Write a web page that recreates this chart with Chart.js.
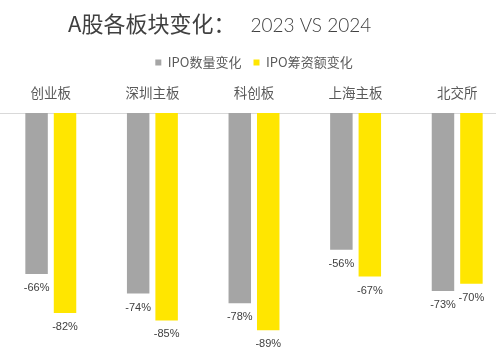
<!DOCTYPE html>
<html lang="zh">
<head>
<meta charset="UTF-8">
<title>A股各板块变化：2023 VS 2024</title>
<script src="https://cdn.jsdelivr.net/npm/chart.js"></script>
<style>
    body { margin: 0; background: #fff; overflow: hidden; }
    .wrap { position: relative; width: 496px; height: 353px; overflow: hidden; }
    .title {
        position: absolute; left: 68px; top: 7px;
        font-family: "Noto Sans CJK SC", sans-serif;
        font-size: 22px; line-height: 30px; color: #404040; white-space: nowrap;
    }
    .title .yr { font-family: Lato, sans-serif; font-weight: 300; font-size: 19px; margin-left: 15px; }
    #chart { position: absolute; left: 0; top: 0; }
</style>
</head>
<body>
<div class="wrap">
    <canvas id="chart" width="508" height="360"></canvas>
    <div class="title">A股各板块变化：<span class="yr">2023 VS 2024</span></div>
</div>
<script>
// data
const boards = ['创业板', '深圳主板', '科创板', '上海主板', '北交所'];
const ipoCount = [-66, -74, -78, -56, -73];
const ipoFunds = [-82, -85, -89, -67, -70];
const seriesNames = ['IPO数量变化', 'IPO筹资额变化'];

// value labels under the end of each bar
const barLabels = {
    id: 'barLabels',
    afterDatasetsDraw(chart) {
        const ctx = chart.ctx;
        ctx.save();
        ctx.font = '11px "Liberation Sans", Arial, sans-serif';
        ctx.fillStyle = '#404040';
        ctx.textAlign = 'center';
        ctx.textBaseline = 'middle';
        chart.data.datasets.forEach((ds, i) => {
            chart.getDatasetMeta(i).data.forEach((bar, j) => {
                ctx.fillText(ds.data[j] + '%', bar.x, bar.y + 14);
            });
        });
        ctx.restore();
    }
};

new Chart(document.getElementById('chart'), {
    type: 'bar',
    data: {
        labels: boards,
        datasets: [
            { label: seriesNames[0], data: ipoCount, backgroundColor: '#A5A5A5' },
            { label: seriesNames[1], data: ipoFunds, backgroundColor: '#FFE600' }
        ]
    },
    options: {
        responsive: false,
        animation: false,
        categoryPercentage: 0.56,
        barPercentage: 0.79,
        layout: { padding: { top: 44, left: 0, right: 0, bottom: 3 } },
        plugins: {
            tooltip: { enabled: false },
            legend: {
                position: 'top',
                labels: {
                    boxWidth: 6,
                    boxHeight: 6,
                    padding: 12,
                    color: '#595959',
                    font: { size: 13, family: '"Noto Sans CJK SC", sans-serif' }
                }
            }
        },
        scales: {
            x: {
                position: 'top',
                grid: { display: false },
                border: { display: true, color: '#d9d9d9' },
                ticks: {
                    color: '#595959',
                    padding: 4,
                    font: { size: 13.5, family: '"Noto Sans CJK SC", sans-serif' }
                },
                afterFit(scale) { scale.height = 34; }
            },
            y: { display: false, min: -100, max: 0 }
        }
    },
    plugins: [barLabels]
});
</script>
</body>
</html>
